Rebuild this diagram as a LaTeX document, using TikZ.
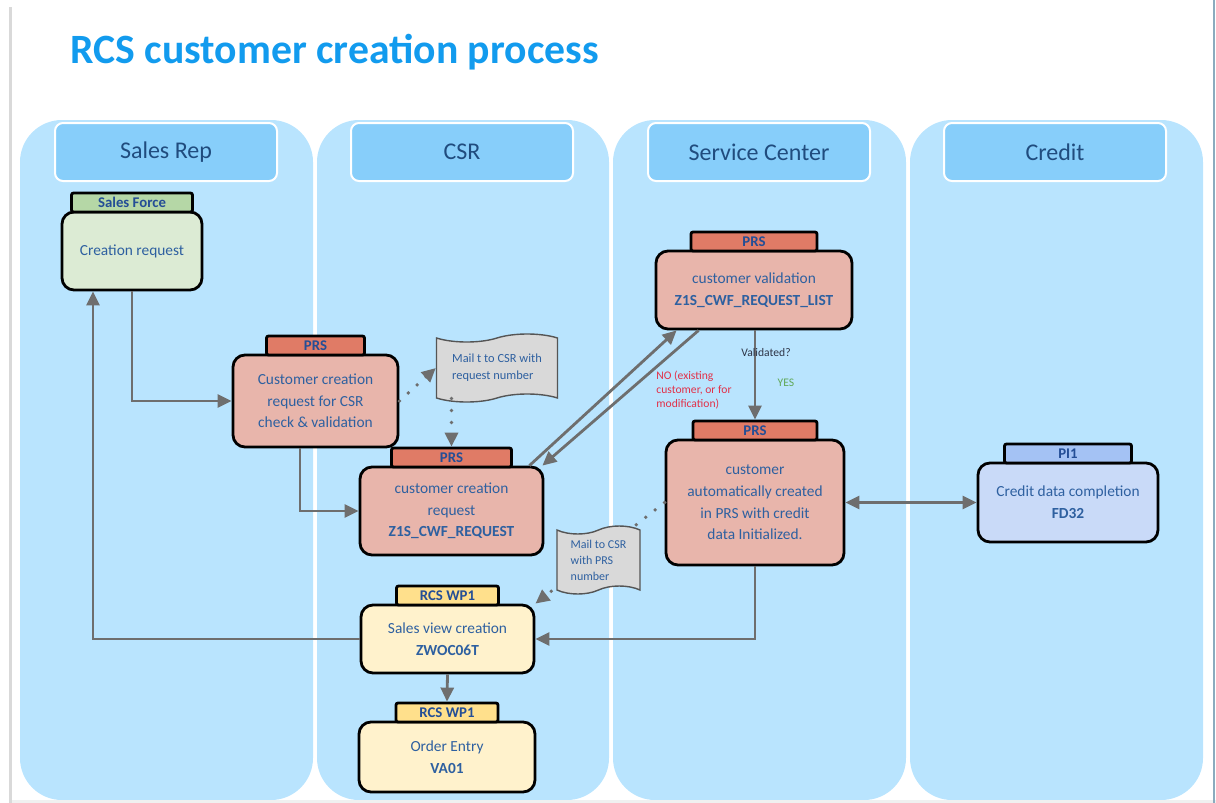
\documentclass[tikz,border=0pt]{standalone}
\usepackage{fontspec}
\setmainfont{Carlito}
\usetikzlibrary{arrows.meta,shapes.symbols,positioning}

\definecolor{lanebg}{RGB}{185,228,254}
\definecolor{headbg}{RGB}{135,206,250}
\definecolor{headtxt}{RGB}{32,76,126}
\definecolor{titleblue}{RGB}{18,155,238}
\definecolor{boxtxt}{RGB}{46,96,160}
\definecolor{tabtxt}{RGB}{36,78,150}
\definecolor{sfhead}{RGB}{181,215,166}
\definecolor{sfbody}{RGB}{220,235,212}
\definecolor{prshead}{RGB}{224,123,102}
\definecolor{prsbody}{RGB}{232,181,171}
\definecolor{pihead}{RGB}{164,194,244}
\definecolor{pibody}{RGB}{201,218,248}
\definecolor{wphead}{RGB}{255,224,140}
\definecolor{wpbody}{RGB}{255,242,204}
\definecolor{mailbg}{RGB}{217,217,217}
\definecolor{mailline}{RGB}{85,85,85}
\definecolor{flowgray}{RGB}{110,110,110}
\definecolor{nored}{RGB}{226,48,72}
\definecolor{yesgreen}{RGB}{96,168,88}
\definecolor{valtxt}{RGB}{45,52,70}

\begin{document}
\begin{tikzpicture}[x=0.5pt, y=-0.5pt,
	>={Triangle[length=7pt,width=6.5pt]},
	lane/.style={fill=lanebg, rounded corners=21pt},
	head/.style={fill=headbg, draw=white, line width=1pt, rounded corners=4pt, minimum width=111pt, minimum height=29pt, text=headtxt, font=\fontsize{12}{14}\selectfont},
	box/.style={draw=black, line width=1.4pt, rounded corners=6pt, align=center, text=boxtxt, font=\fontsize{7.7}{10.8}\selectfont, inner sep=2pt},
	tab/.style={draw=black, line width=1.4pt, rounded corners=1pt, above=-1.4pt of #1, minimum height=9.5pt, inner sep=0pt, text=tabtxt, font=\bfseries\fontsize{7.4}{8}\selectfont},
	mail/.style={tape, draw=mailline, fill=mailbg, line width=0.7pt, tape bend height=4pt, align=left, text=boxtxt, inner sep=1pt},
	flow/.style={draw=flowgray, line width=1.4pt},
	mailflow/.style={flow, line cap=round, dash pattern=on 0pt off 6pt, line width=1.9pt},
	note/.style={inner sep=0pt, font=\fontsize{5.8}{7}\selectfont}]
	\useasboundingbox (0,0) rectangle (1216,803);

	\fill[lane] (20,120) rectangle (313,800);
	\fill[lane] (317,120) rectangle (609,800);
	\fill[lane] (613,120) rectangle (906,800);
	\fill[lane] (910,120) rectangle (1203,800);
	\fill[black!6] (10,800) rectangle (1216,803);
	\draw[black!15, line width=1.5pt] (10.5,7) -- (10.5,803);
	\draw[black!25!lanebg, line width=0.75pt] (1214,0) -- (1214,803);

	\node[anchor=base west, inner sep=0pt, text=titleblue, font=\bfseries\fontsize{20.85}{24}\selectfont] (title) at (70,63) {RCS customer creation process};

	\node[head] (hsales) at (166,152) {Sales Rep};
	\node[head] (hcsr) at (462,152) {CSR};
	\node[head] (hsc) at (759,152) {Service Center};
	\node[head] (hcredit) at (1055,152) {Credit};

	\node[box, fill=sfbody, minimum width=70pt, minimum height=39pt] (cr) at (132,251) {Creation request};
	\node[tab=cr, fill=sfhead, minimum width=60.5pt] (crt) {Sales Force};

	\node[box, fill=prsbody, minimum width=82.5pt, minimum height=46pt] (p1) at (315.5,401) {Customer creation\\request for CSR\\check \& validation};
	\node[tab=p1, fill=prshead, minimum width=49pt] (p1t) {PRS};

	\node[box, fill=prsbody, minimum width=91.5pt, minimum height=44pt] (p2) at (451.5,511) {customer creation\\request\\\textbf{Z1S\_CWF\_REQUEST}};
	\node[tab=p2, fill=prshead, minimum width=60pt] (p2t) {PRS};

	\node[box, fill=prsbody, minimum width=98pt, minimum height=39pt] (p3) at (754,290) {customer validation\\\textbf{Z1S\_CWF\_REQUEST\_LIST}};
	\node[tab=p3, fill=prshead, minimum width=63pt] (p3t) {PRS};

	\node[box, fill=prsbody, minimum width=89pt, minimum height=62.5pt] (p4) at (755,502.5) {customer\\automatically created\\in PRS with credit\\data Initialized.};
	\node[tab=p4, fill=prshead, minimum width=62pt] (p4t) {PRS};

	\node[box, fill=pibody, minimum width=90pt, minimum height=39.5pt] (pi) at (1068,502.5) {Credit data completion\\\textbf{FD32}};
	\node[tab=pi, fill=pihead, minimum width=63.5pt] (pit) {PI1};

	\node[box, fill=wpbody, minimum width=86.5pt, minimum height=34pt] (sv) at (447.5,639) {Sales view creation\\\textbf{ZWOC06T}};
	\node[tab=sv, fill=wphead, minimum width=51pt] (svt) {RCS WP1};

	\node[box, fill=wpbody, minimum width=88pt, minimum height=35pt] (oe) at (447,757) {Order Entry\\\textbf{VA01}};
	\node[tab=oe, fill=wphead, minimum width=51pt] (oet) {RCS WP1};

	\node[mail, minimum width=60.5pt, minimum height=34pt, font=\fontsize{6.2}{8.5}\selectfont] (m1) at (497,368) {Mail t to CSR with\\request number};

	\draw[flow, ->] (cr.south) |- (p1.west);
	\draw[flow, ->] ([xshift=-7.75pt]p1.south) |- (p2.west);
	\draw[mailflow, ->] (p1.east) -- (m1.west);
	\draw[mailflow, ->] (p2t.north |- m1.south) -- (p2t.north);
	\draw[flow, ->] ([xshift=-7.5pt]p2.north east) -- ([xshift=11pt]p3.south west);
	\draw[flow, ->] ([xshift=22pt]p3.south west) -- ([xshift=-1pt]p2.north east);
	\draw[flow, ->] (p4t.north |- p3.south) -- (p4t.north);
	\draw[mailflow, ->] (p4.west) -- (sv.north east);
	\draw[flow, ->] (p4.south) |- (sv.east);
	\draw[flow, ->] (sv.west) -| ([xshift=-19.5pt]cr.south);
	\draw[flow, ->] (sv.south) -- (oet.north);
	\draw[flow, <->] (p4.east) -- (p4.east -| pi.west);

	\node[mail, minimum width=41.5pt, minimum height=34pt, font=\fontsize{6}{8}\selectfont] (m2) at (598.5,560) {Mail to CSR\\with PRS\\number};

	\node[note, text=nored, anchor=west, align=left] (nolbl) at (656,390) {NO (existing\\customer, or for\\modification)};
	\node[note, text=valtxt] (valq) at (766,353) {Validated?};
	\node[note, text=yesgreen] (yes) at (786,383) {YES};
\end{tikzpicture}
\end{document}
